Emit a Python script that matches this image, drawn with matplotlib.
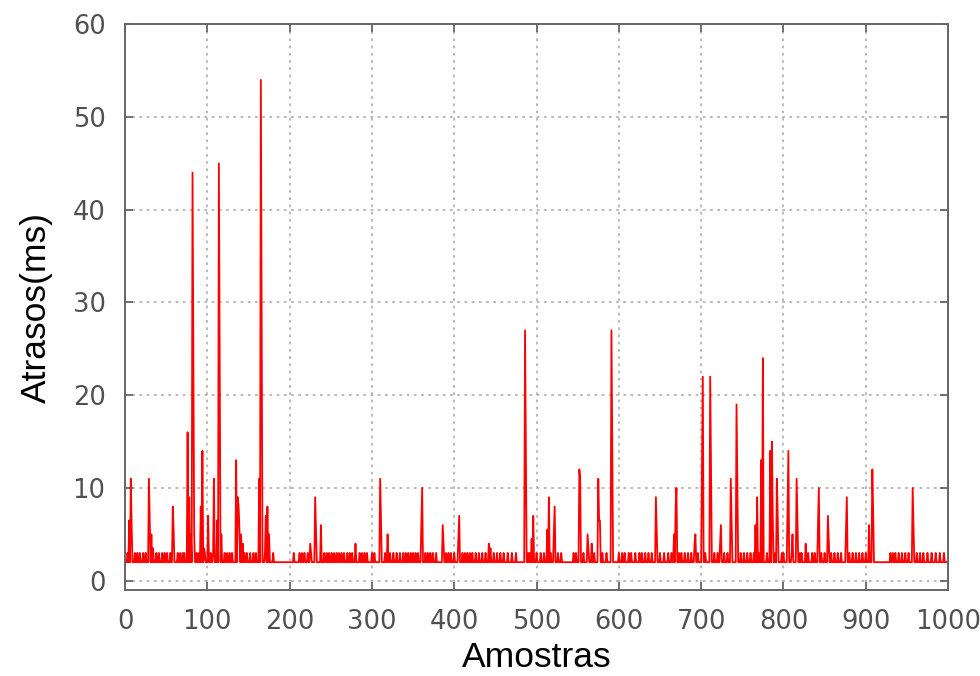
import numpy as np
import matplotlib
matplotlib.use("Agg")
import matplotlib.pyplot as plt

# baseline delay (ms) and the sample count
n_samples = 1001
base_ms = 2.0

# samples that sit one step above the baseline
blip_idx = [3, 12, 15, 18, 22, 25, 38, 41, 45, 48, 51, 55, 64, 67, 70, 72, 87, 90,
            97, 104, 107, 121, 124, 127, 130, 145, 148, 152, 156, 159, 170, 180,
            205, 212, 215, 218, 222, 226, 242, 245, 248, 251, 254, 257, 260, 263,
            266, 270, 273, 276, 285, 288, 291, 294, 300, 303, 316, 322, 326, 330,
            334, 338, 341, 344, 347, 350, 353, 356, 365, 368, 371, 374, 378, 390,
            393, 396, 400, 410, 413, 416, 419, 422, 426, 430, 434, 438, 448, 452,
            456, 460, 465, 470, 475, 490, 492, 500, 505, 509, 517, 526, 530, 545,
            548, 557, 570, 580, 585, 600, 604, 607, 612, 615, 620, 625, 628, 632,
            636, 640, 650, 655, 660, 664, 673, 676, 680, 684, 688, 696, 705, 716,
            720, 728, 732, 748, 752, 756, 760, 764, 770, 780, 790, 798, 800, 810,
            820, 822, 830, 835, 838, 846, 850, 858, 862, 866, 870, 880, 884, 888,
            892, 896, 900, 930, 933, 936, 940, 944, 948, 952, 962, 966, 970, 975,
            980, 985, 990, 995]
blip_ms = 3.0

# spikes (sample index, delay in ms)
spike_idx = [5, 7, 8, 29, 30, 32, 34, 58, 59, 76, 78, 80, 82, 83, 84, 92, 94, 96,
             101, 108, 112, 114, 115, 117, 135, 137, 138, 139, 141, 143, 163, 165,
             166, 171, 173, 175, 225, 231, 232, 238, 280, 310, 311, 319, 360, 361,
             386, 387, 405, 406, 442, 444, 486, 487, 494, 496, 513, 515, 521, 522,
             552, 553, 562, 563, 567, 575, 576, 577, 591, 592, 645, 646, 667, 669,
             670, 692, 693, 701, 702, 711, 712, 723, 724, 736, 737, 743, 744, 766,
             768, 773, 775, 784, 786, 787, 792, 793, 805, 806, 811, 816, 817, 827,
             842, 843, 854, 855, 876, 877, 904, 908, 909, 957, 958]
spike_ms = [6.5, 11, 6, 11, 6.5, 5, 3.5, 8, 5.5, 16, 9, 5, 44, 23.5, 5, 8, 14, 3.5,
            7, 11, 6.5, 45, 23.5, 5, 13, 9, 8, 5.5, 5, 4, 11, 54,
            28, 7, 8, 5, 4, 9, 5.5, 6, 4, 11, 6.5, 5, 6, 10,
            6, 4, 4.5, 7, 4, 3.5, 27, 15, 4.5, 7, 5.5, 9, 5, 8,
            12, 11, 5, 3.5, 4, 11, 6.5, 6.5, 27, 14.5, 9, 5.5, 5, 8,
            10, 4, 5, 12, 22, 22, 12, 4, 6, 11, 6.5, 19, 11, 6,
            9, 13, 24, 14, 15, 7, 11, 7, 8, 14, 5, 11, 6.5, 4,
            6, 10, 7, 4.5, 5.5, 9, 6, 12, 7.5, 10, 6]

delay = np.full(n_samples, base_ms)
delay[blip_idx] = blip_ms
delay[spike_idx] = spike_ms
x = np.arange(n_samples)

fig = plt.figure(figsize=(9.8, 6.76), dpi=100)
ax = fig.add_axes([0.1276, 0.1272, 0.8398, 0.837])
ax.plot(x, delay, color="#ff0000", linewidth=1.3)

ax.set_xlim(0, 1000)
ax.set_ylim(-1, 60)
ax.set_xticks(np.arange(0, 1001, 100))
ax.set_yticks(np.arange(0, 61, 10))
ax.grid(True, color="#b4b4b4", linestyle=(0, (1.5, 2.5)), linewidth=1.3)
ax.tick_params(direction="in", length=6, width=1.3, color="#666666",
               top=True, right=True, labelsize=18.5, labelcolor="#505050", pad=14)
for s in ax.spines.values():
    s.set_color("#666666")
    s.set_linewidth(1.4)

ax.set_xlabel("Amostras", fontsize=25.5, family="Liberation Sans", labelpad=4)
ax.set_ylabel("Atrasos(ms)", fontsize=25.5, family="Liberation Sans", labelpad=14)

fig.savefig("out.png", dpi=100)
